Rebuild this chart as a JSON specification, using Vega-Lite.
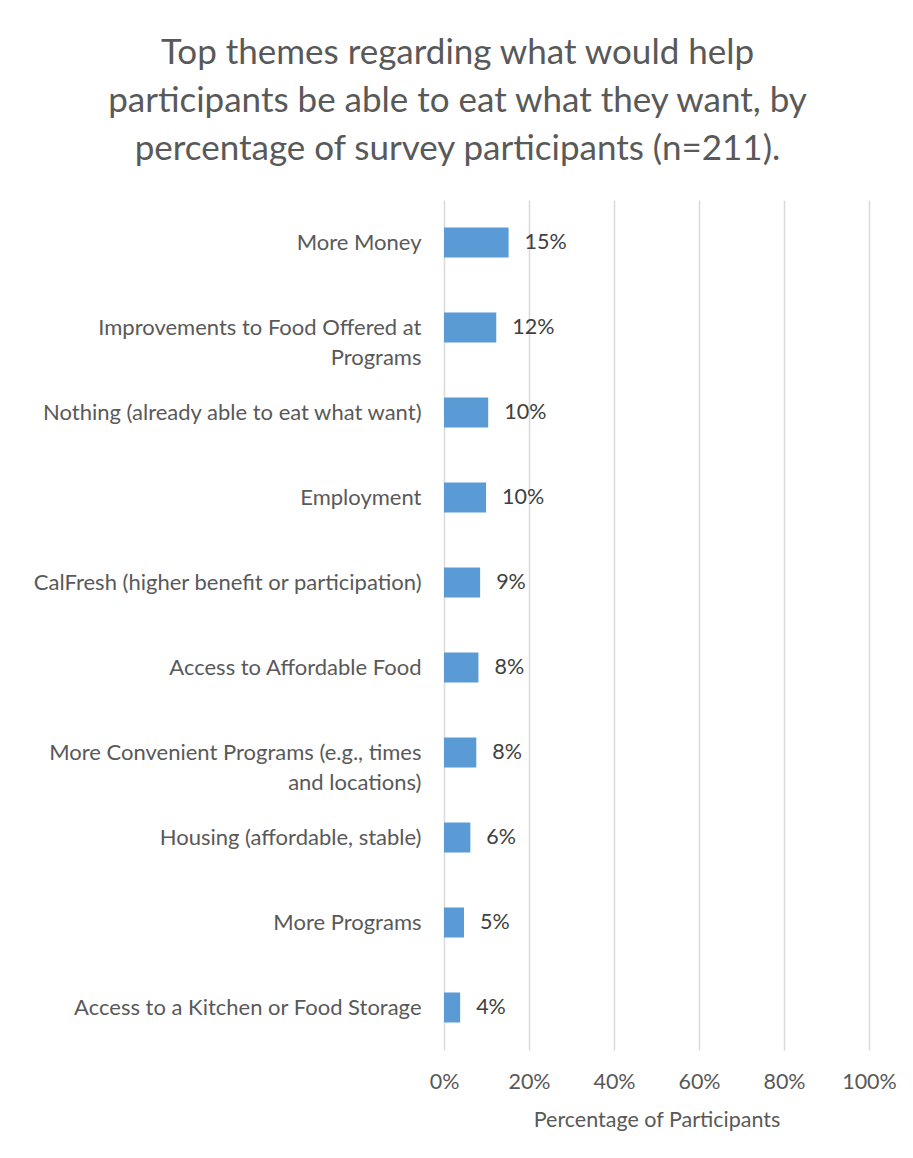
{
  "$schema": "https://vega.github.io/schema/vega-lite/v6.json",
  "autosize": "none",
  "width": 425,
  "height": 850,
  "padding": {"left": 444, "top": 200, "right": 44, "bottom": 108},
  "background": "white",
  "title": {
    "text": ["Top themes regarding what would help", "participants be able to eat what they want, by", "percentage of survey participants (n=211)."],
    "anchor": "middle",
    "dx": -199,
    "offset": 33,
    "fontSize": 35,
    "lineHeight": 48,
    "font": "Lato",
    "fontWeight": "normal",
    "color": "#595959"
  },
  "config": {
    "view": {"stroke": null},
    "font": "Lato"
  },
  "data": {
    "values": [
      {"theme": "More Money", "pct": 0.152},
      {"theme": "Improvements to Food Offered at|Programs", "pct": 0.123},
      {"theme": "Nothing (already able to eat what want)", "pct": 0.104},
      {"theme": "Employment", "pct": 0.099},
      {"theme": "CalFresh (higher benefit or participation)", "pct": 0.085},
      {"theme": "Access to Affordable Food", "pct": 0.081},
      {"theme": "More Convenient Programs (e.g., times|and locations)", "pct": 0.076},
      {"theme": "Housing (affordable, stable)", "pct": 0.062},
      {"theme": "More Programs", "pct": 0.047},
      {"theme": "Access to a Kitchen or Food Storage", "pct": 0.038}
    ]
  },
  "encoding": {
    "y": {
      "field": "theme",
      "type": "nominal",
      "sort": null,
      "scale": {"paddingInner": 0.647, "paddingOuter": 0.3235},
      "axis": {
        "title": null,
        "ticks": false,
        "domain": false,
        "labelExpr": "split(datum.value, '|')",
        "labelFontSize": 22,
        "labelColor": "#595959",
        "labelPadding": 23,
        "labelLimit": 500,
        "labelLineHeight": 30,
        "labelFont": "Lato"
      }
    },
    "x": {
      "field": "pct",
      "type": "quantitative",
      "scale": {"domain": [0, 1], "nice": false},
      "axis": {
        "title": "Percentage of Participants",
        "format": ".0%",
        "values": [0, 0.2, 0.4, 0.6, 0.8, 1],
        "ticks": false,
        "domain": false,
        "grid": true,
        "gridColor": "#d9d9d9",
        "gridWidth": 1.5,
        "labelFlush": false,
        "labelFontSize": 21.5,
        "labelColor": "#595959",
        "labelPadding": 21,
        "labelFont": "Lato",
        "titleFontSize": 21.5,
        "titleColor": "#595959",
        "titleFontWeight": "normal",
        "titleFont": "Lato",
        "titlePadding": 17
      }
    }
  },
  "layer": [
    {"mark": {"type": "bar", "color": "#5b9bd5"}},
    {
      "mark": {"type": "text", "align": "left", "dx": 16, "fontSize": 21.5, "color": "#404040", "font": "Lato"},
      "encoding": {"text": {"field": "pct", "type": "quantitative", "format": ".0%"}}
    }
  ]
}
